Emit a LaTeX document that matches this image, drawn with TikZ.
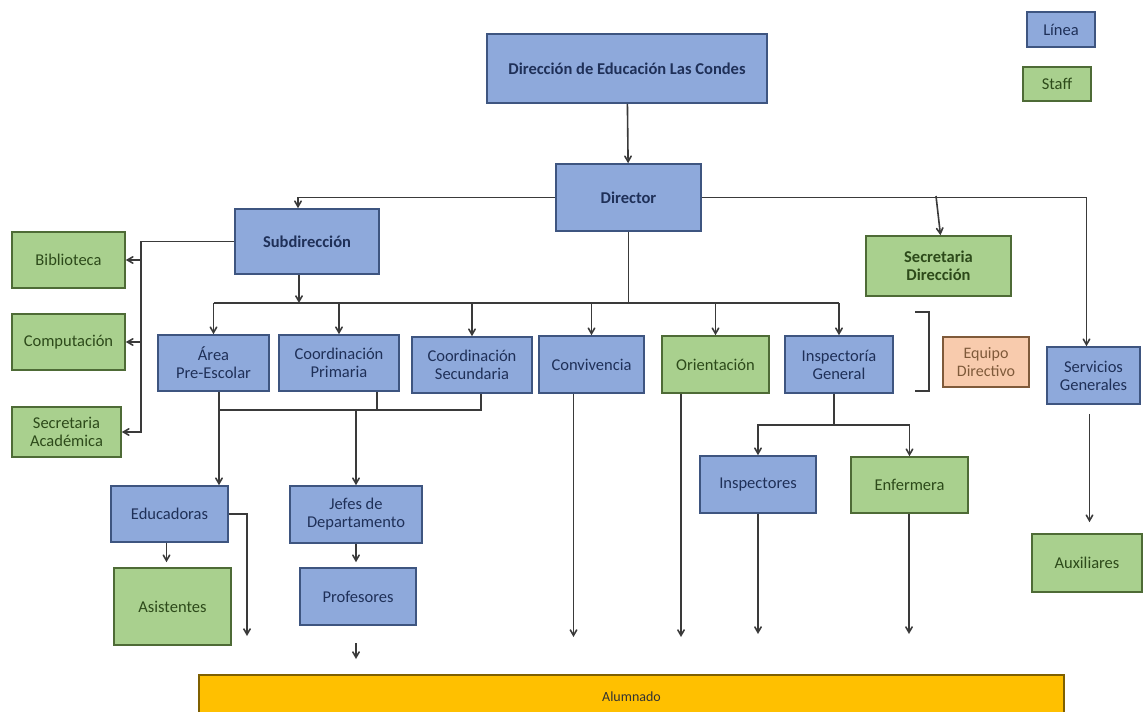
\documentclass[tikz,border=0pt]{standalone}
\usepackage{fontspec}
\setmainfont{Carlito}
\usetikzlibrary{shapes.geometric, arrows}

\definecolor{azul}{HTML}{8EA9DB}
\definecolor{bordeazul}{HTML}{3E5580}
\definecolor{textoazul}{HTML}{1F3058}
\definecolor{verde}{HTML}{A9D08E}
\definecolor{bordeverde}{HTML}{4E6B36}
\definecolor{textoverde}{HTML}{2D4A1A}
\definecolor{durazno}{HTML}{F8CBAD}
\definecolor{bordedurazno}{HTML}{7F5A3A}
\definecolor{amarillo}{HTML}{FFC000}
\definecolor{bordeamarillo}{HTML}{7F6000}
\definecolor{gris}{HTML}{3A3A3A}

\tikzstyle{linea} = [rectangle, draw=bordeazul, fill=azul, line width=1.6pt, text=textoazul, align=center, inner sep=2pt, font=\fontsize{16.5}{18}\selectfont]
\tikzstyle{staff} = [rectangle, draw=bordeverde, fill=verde, line width=1.6pt, text=textoverde, align=center, inner sep=2pt, font=\fontsize{16.5}{18}\selectfont]
\tikzstyle{flecha} = [line width=1.6pt, draw=gris, ->, >=angle 60]
\tikzstyle{trazo} = [line width=1.6pt, draw=gris]

\begin{document}
\begin{tikzpicture}[x=1pt, y=-1pt]

\useasboundingbox (0,0) rectangle (1144,712);

\node[linea, minimum width=280, minimum height=69] (direccion) at (627,68.5) {\textbf{Dirección de Educación Las Condes}};
\node[linea, minimum width=145, minimum height=67] (director) at (628.5,197.5) {\textbf{Director}};

\draw [flecha] (direccion) -- (director);

% legend

\node[linea, minimum width=68, minimum height=35] (ley_linea) at (1061,29.5) {Línea};
\node[staff, minimum width=68, minimum height=34] (ley_staff) at (1057,84) {Staff};

% upper level

\node[linea, minimum width=144, minimum height=65] (subdireccion) at (307,241.5) {\textbf{Subdirección}};
\node[staff, minimum width=145, minimum height=60] (secre_dir) at (938.5,266) {\textbf{Secretaria}\\\textbf{Dirección}};
\node[linea, minimum width=93, minimum height=57] (servicios) at (1093.5,375.5) {Servicios\\Generales};
\node[staff, minimum width=110, minimum height=58] (auxiliares) at (1087,563) {Auxiliares};

\coordinate (c_secre) at (936,196);

\draw [flecha] (director.west) -| ([xshift=-9]subdireccion.north);
\draw [flecha] (director.east) -| ([xshift=-7]servicios.north);
\draw [flecha] (c_secre) -- ([xshift=2]secre_dir.north);
\draw [flecha, shorten <=9pt, shorten >=11pt] ([xshift=-4]servicios.south) -- ([xshift=-4]servicios.south |- auxiliares.north);

% left side

\node[staff, minimum width=113, minimum height=56] (biblioteca) at (68.5,260) {Biblioteca};
\node[staff, minimum width=113, minimum height=56] (computacion) at (68.5,342) {Computación};
\node[staff, minimum width=109, minimum height=50] (secre_acad) at (66.5,432) {Secretaria\\Académica};

\coordinate (izq) at (141,241.5);

\draw [flecha] (subdireccion.west) -- (izq) |- (secre_acad.east);
\draw [flecha] (izq |- biblioteca.east) -- (biblioteca.east);
\draw [flecha] (izq |- computacion.east) -- (computacion.east);

% equipo directivo

\node[linea, minimum width=111, minimum height=56] (preescolar) at (213.5,363) {Área\\Pre-Escolar};
\node[linea, minimum width=120, minimum height=56] (primaria) at (339,363) {Coordinación\\Primaria};
\node[linea, minimum width=120, minimum height=56] (secundaria) at (472,365) {Coordinación\\Secundaria};
\node[linea, minimum width=105, minimum height=57] (convivencia) at (591.5,364.5) {Convivencia};
\node[staff, minimum width=107, minimum height=57] (orientacion) at (715.5,364.5) {Orientación};
\node[linea, minimum width=108, minimum height=57] (inspectoria) at (839,364.5) {Inspectoría\\General};
\node[rectangle, draw=bordedurazno, fill=durazno, line width=1.6pt, text=bordedurazno, align=center, font=\fontsize{16}{18}\selectfont, minimum width=86, minimum height=50] (equipo) at (986,362) {Equipo\\Directivo};

\draw [trazo] (915,312) -- (929,312) -- (929,391) -- (915,391);

\coordinate (bus_l) at (213.5,303);
\coordinate (bus_r) at (839,303);

\draw [trazo] (bus_l) -- (bus_r);
\draw [trazo] (director.south) -- (director.south |- bus_l);
\draw [flecha] ([xshift=-8]subdireccion.south) -- ([xshift=-8]subdireccion.south |- bus_l);
\draw [flecha] (bus_l) -- (preescolar.north);
\draw [flecha] (primaria.north |- bus_l) -- (primaria.north);
\draw [flecha] (secundaria.north |- bus_l) -- (secundaria.north);
\draw [flecha] (convivencia.north |- bus_l) -- (convivencia.north);
\draw [flecha] (orientacion.north |- bus_l) -- (orientacion.north);
\draw [flecha] (bus_r) -- (inspectoria.north);

% lower level

\node[linea, minimum width=117, minimum height=56] (educadoras) at (169.5,514) {Educadoras};
\node[staff, minimum width=117, minimum height=77] (asistentes) at (172.5,606.5) {Asistentes};
\node[linea, minimum width=132, minimum height=57] (jefes) at (356,514.5) {Jefes de\\Departamento};
\node[linea, minimum width=116, minimum height=57] (profesores) at (358,596.5) {Profesores};
\node[linea, minimum width=116, minimum height=57] (inspectores) at (758,484.5) {Inspectores};
\node[staff, minimum width=117, minimum height=56] (enfermera) at (909.5,485) {Enfermera};

\coordinate (coord_l) at (219,410);
\coordinate (coord_r) at (481,410);
\coordinate (insp_bus) at (834,425);

\draw [flecha] ([xshift=5.5]preescolar.south) -- ([xshift=5.5]preescolar.south |- educadoras.north);
\draw [trazo] (coord_l) -- (coord_r) -- (coord_r |- secundaria.south);
\draw [trazo] ([xshift=38]primaria.south) -- ([xshift=38]primaria.south |- coord_l);
\draw [flecha] (jefes.north |- coord_l) -- (jefes.north);
\draw [flecha, shorten >=5pt] ([xshift=-3]educadoras.south) -- ([xshift=-3]educadoras.south |- asistentes.north);
\draw [flecha, shorten >=5pt] (jefes.south) -- (jefes.south |- profesores.north);
\draw [trazo] (inspectoria.south -| insp_bus) -- (insp_bus);
\draw [flecha] (insp_bus) -| (inspectores.north);
\draw [flecha] (insp_bus) -| (enfermera.north);

% alumnado

\node[rectangle, draw=bordeamarillo, fill=amarillo, line width=1.6pt, text=black!80, font=\fontsize{14}{16}\selectfont, minimum width=865, minimum height=43] (alumnado) at (631.5,696.5) {Alumnado};

\coordinate (edu_fin) at (247,636);
\coordinate (prof_a) at (356,643);
\coordinate (prof_b) at (356,659);
\coordinate (conv_fin) at (573.5,637);
\coordinate (orie_fin) at (681,637);
\coordinate (insp_fin) at (758,634);
\coordinate (enf_fin) at (909,634);

\draw [flecha] (educadoras.east) -| (edu_fin);
\draw [flecha] (prof_a) -- (prof_b);
\draw [flecha] (convivencia.south -| conv_fin) -- (conv_fin);
\draw [flecha] (orientacion.south -| orie_fin) -- (orie_fin);
\draw [flecha] (inspectores.south) -- (insp_fin);
\draw [flecha] (enfermera.south -| enf_fin) -- (enf_fin);

\end{tikzpicture}
\end{document}
